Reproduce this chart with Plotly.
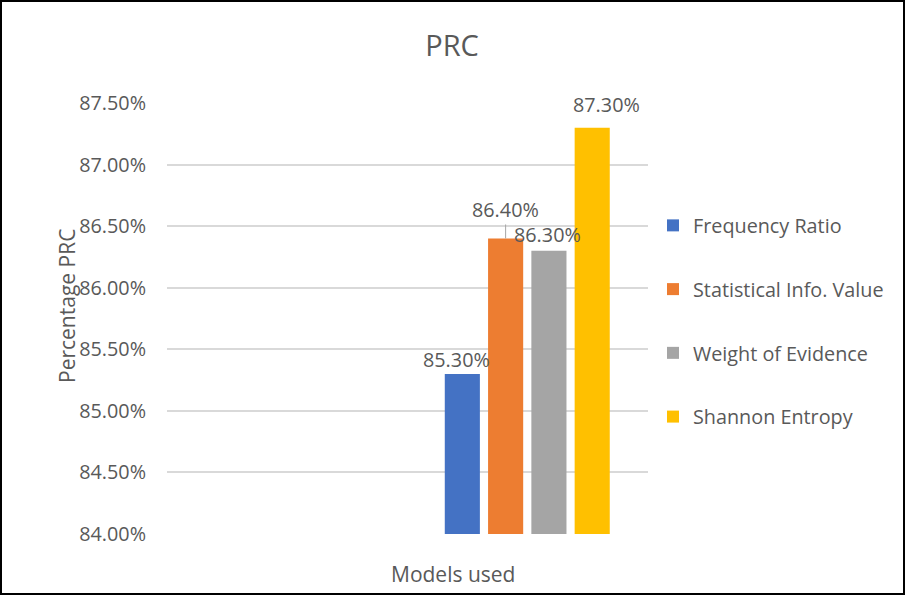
import plotly.graph_objects as go

# Models compared and their PRC scores (percent)
models = ["Frequency Ratio", "Statistical Info. Value", "Weight of Evidence", "Shannon Entropy"]
prc_values = [85.3, 86.4, 86.3, 87.3]
colors = ["#4472C4", "#ED7D31", "#A5A5A5", "#FFC000"]

y_ticks = [84.0, 84.5, 85.0, 85.5, 86.0, 86.5, 87.0, 87.5]

# Bar geometry inside the second of two category slots
bar_width = 0.146
bar_offsets = [-0.345, -0.165, 0.015, 0.195]
# Label placement (pixels) relative to each bar top
label_dx = [-6, 0, -1, 14]
label_dy = [14, 29, 16, 23]

FONT = "Open Sans, DejaVu Sans, sans-serif"
GREY = "#595959"
FS = 19.8

fig = go.Figure()
for i, (name, val, col) in enumerate(zip(models, prc_values, colors)):
    fig.add_trace(go.Bar(
        x=[1], y=[val - 84.0], base=84.0,
        width=bar_width, offset=bar_offsets[i],
        name=name, legendgroup=name,
        marker=dict(color=col, line=dict(width=0)),
        hoverinfo="name+y",
    ))
    cx = 1 + bar_offsets[i] + bar_width / 2
    if i == 1:
        fig.add_annotation(
            x=cx, y=val, xref="x", yref="y",
            text=f"{val:.2f}%", showarrow=True, arrowhead=0,
            arrowwidth=1, arrowcolor="#A6A6A6", ax=0, ay=-label_dy[i],
            font=dict(family=FONT, size=FS, color=GREY),
        )
    else:
        fig.add_annotation(
            x=cx, y=val, xref="x", yref="y",
            text=f"{val:.2f}%", showarrow=False,
            xanchor="center", yanchor="middle",
            xshift=label_dx[i], yshift=label_dy[i],
            font=dict(family=FONT, size=FS, color=GREY),
        )

L, R, T, B = 167, 257, 103, 61
W, H = 905, 595
pw, ph = W - L - R, H - T - B

# Axis titles
fig.add_annotation(
    x=(67 - L) / pw, y=(H - B - 306) / ph, xref="paper", yref="paper",
    text="Percentage PRC", textangle=-90, showarrow=False,
    xanchor="center", yanchor="middle",
    font=dict(family=FONT, size=21, color=GREY),
)
fig.add_annotation(
    x=(453 - L) / pw, y=(H - B - 574) / ph, xref="paper", yref="paper",
    text="Models used", showarrow=False,
    xanchor="center", yanchor="middle",
    font=dict(family=FONT, size=21, color=GREY),
)

# Outer frame around the whole chart
fig.add_shape(
    type="rect", xref="paper", yref="paper",
    x0=(1 - L) / pw, x1=(W - 1 - L) / pw,
    y0=(1 - B) / ph, y1=(H - 1 - B) / ph,
    line=dict(color="#000000", width=2), fillcolor="rgba(0,0,0,0)",
)

fig.update_layout(
    width=W, height=H,
    margin=dict(l=L, r=R, t=T, b=B),
    paper_bgcolor="white", plot_bgcolor="white",
    barmode="overlay",
    title=dict(text="PRC", x=(452 - L) / pw, xref="paper", xanchor="center",
               y=1 - 46 / H, yanchor="middle",
               font=dict(family=FONT, size=29, color=GREY)),
    legend=dict(
        x=(653 - L) / pw, xanchor="left",
        y=(H - B - 206) / ph, yanchor="top",
        font=dict(family=FONT, size=FS, color=GREY),
        tracegroupgap=35, bgcolor="rgba(0,0,0,0)",
    ),
    xaxis=dict(range=[-0.5, 1.5], showticklabels=False, showgrid=False,
               zeroline=False, showline=False, ticks=""),
    yaxis=dict(range=[84.0, 87.5], tickvals=y_ticks,
               ticktext=[f"{v:.2f}%" for v in y_ticks],
               showgrid=True, gridcolor="#D9D9D9", gridwidth=1.5,
               zeroline=False, showline=False, ticks="", ticklen=0,
               ticklabelstandoff=20,
               tickfont=dict(family=FONT, size=FS, color=GREY)),
    showlegend=True,
)

fig.write_html("out.html")
